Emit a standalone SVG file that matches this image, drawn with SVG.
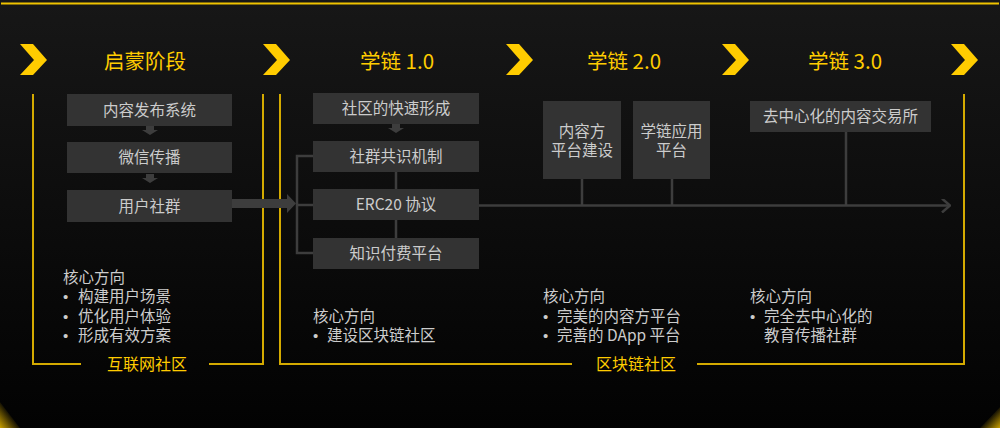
<svg xmlns="http://www.w3.org/2000/svg" width="1000" height="428" viewBox="0 0 1000 428">
<defs>
<linearGradient id="bg" x1="0" y1="0" x2="0" y2="1">
<stop offset="0" stop-color="#171717"/>
<stop offset="1" stop-color="#020202"/>
</linearGradient>
<linearGradient id="cl" x1="0" y1="1" x2="1" y2="0">
<stop offset="0" stop-color="#c9a000"/>
<stop offset="0.55" stop-color="#c9a000" stop-opacity="0"/>
</linearGradient>
<linearGradient id="cr" x1="1" y1="1" x2="0" y2="0">
<stop offset="0" stop-color="#c9a000"/>
<stop offset="0.55" stop-color="#c9a000" stop-opacity="0"/>
</linearGradient>
<polygon id="chev" points="0,0 13,0 27,16 13,31 0,31 14,16" fill="#ffcc00"/>
<polygon id="down" points="-4,0 4,0 4,4 8,4 0,9 -8,4 -4,4" fill="#3d3d3d"/>
<marker id="ah" markerWidth="10" markerHeight="14" refX="9" refY="7" orient="auto" markerUnits="userSpaceOnUse">
<path d="M1,0 L9,7 L1,14" fill="none" stroke="#3d3d3d" stroke-width="2.5"/>
</marker>
</defs>
<style>
.t{font-family:"Noto Sans CJK SC","Liberation Sans",sans-serif;}
.b{font-family:"Liberation Sans",sans-serif;font-size:15px;}
.title{fill:#ffcc00;font-size:20.5px;text-anchor:middle;}
.box{fill:#333333;}
.bt{fill:#cccccc;font-size:15.5px;text-anchor:middle;}
.frame{fill:none;stroke:#d4aa00;stroke-width:2;}
.ft{fill:#ffcc00;font-size:16px;text-anchor:middle;}
.core{fill:#cccccc;font-size:15.5px;}
.con{fill:none;stroke:#3d3d3d;stroke-width:2.5;}
</style>
<rect x="0" y="0" width="1000" height="428" fill="url(#bg)"/>
<rect x="1" y="2.5" width="998" height="2" fill="#f0c300"/>
<polygon points="0,402 0,428 20,428" fill="url(#cl)"/>
<polygon points="1000,407 1000,428 980,428" fill="url(#cr)"/>

<g id="chevrons">
<use href="#chev" x="20" y="44"/>
<use href="#chev" x="263" y="44"/>
<use href="#chev" x="506" y="44"/>
<use href="#chev" x="722" y="44"/>
<use href="#chev" x="951" y="44"/>
</g>

<g id="titles">
<text class="t title" x="145" y="69">启蒙阶段</text>
<text class="t title" x="397" y="69">学链 1.0</text>
<text class="t title" x="624" y="69">学链 2.0</text>
<text class="t title" x="845" y="69">学链 3.0</text>
</g>

<g id="frames">
<path class="frame" d="M33,94 V364 H81 M209,364 H263 V94"/>
<path class="frame" d="M280,94 V364 H572 M697,364 H964 V94"/>
<text class="t ft" x="147" y="369.5">互联网社区</text>
<text class="t ft" x="636" y="369.5">区块链社区</text>
</g>

<g id="connectors">
<use href="#down" x="150" y="126"/>
<use href="#down" x="150" y="174"/>
<use href="#down" x="396" y="124"/>
<polygon points="232,199 287,199 287,194 296,203.5 287,213 287,208 232,208" fill="#3d3d3d"/>
<path class="con" d="M313,156 H297 V253 H313 M297,205 H313"/>
<path class="con" d="M396,172 V189 M396,220 V238"/>
<path class="con" d="M479,205.5 H950" marker-end="url(#ah)"/>
<path class="con" d="M582,179 V205 M672,179 V205 M846,132 V205"/>
</g>

<g id="n1"><rect class="box" x="67" y="94" width="165" height="32"/><text class="t bt" x="149.5" y="115.5">内容发布系统</text></g>
<g id="n2"><rect class="box" x="67" y="142" width="165" height="31"/><text class="t bt" x="149.5" y="163">微信传播</text></g>
<g id="n3"><rect class="box" x="67" y="190" width="165" height="32"/><text class="t bt" x="149.5" y="211.5">用户社群</text></g>

<g id="n4"><rect class="box" x="313" y="93" width="166" height="31"/><text class="t bt" x="396" y="114">社区的快速形成</text></g>
<g id="n5"><rect class="box" x="313" y="141" width="166" height="31"/><text class="t bt" x="396" y="162">社群共识机制</text></g>
<g id="n6"><rect class="box" x="313" y="189" width="166" height="31"/><text class="t bt" x="396" y="210">ERC20 协议</text></g>
<g id="n7"><rect class="box" x="313" y="238" width="166" height="31"/><text class="t bt" x="396" y="259">知识付费平台</text></g>

<g id="n8"><rect class="box" x="543" y="101" width="78" height="78"/><text class="t bt" x="582" y="137"><tspan x="582" y="137">内容方</tspan><tspan x="582" y="156">平台建设</tspan></text></g>
<g id="n9"><rect class="box" x="633" y="101" width="77" height="78"/><text class="t bt" x="671.5" y="137"><tspan x="671.5" y="137">学链应用</tspan><tspan x="671.5" y="156">平台</tspan></text></g>
<g id="n10"><rect class="box" x="750" y="101" width="181" height="31"/><text class="t bt" x="840.5" y="122">去中心化的内容交易所</text></g>

<g id="core1">
<text class="t core" x="63" y="283"><tspan x="63" y="283">核心方向</tspan><tspan class="b" x="63" y="302">•</tspan><tspan x="78" y="302">构建用户场景</tspan><tspan class="b" x="63" y="321.5">•</tspan><tspan x="78" y="321.5">优化用户体验</tspan><tspan class="b" x="63" y="341">•</tspan><tspan x="78" y="341">形成有效方案</tspan></text>
</g>
<g id="core2">
<text class="t core" x="313" y="321.5"><tspan x="313" y="321.5">核心方向</tspan><tspan class="b" x="313" y="341">•</tspan><tspan x="327" y="341">建设区块链社区</tspan></text>
</g>
<g id="core3">
<text class="t core" x="543" y="302"><tspan x="543" y="302">核心方向</tspan><tspan class="b" x="543" y="321.5">•</tspan><tspan x="557" y="321.5">完美的内容方平台</tspan><tspan class="b" x="543" y="341">•</tspan><tspan x="557" y="341">完善的 DApp 平台</tspan></text>
</g>
<g id="core4">
<text class="t core" x="750" y="302"><tspan x="750" y="302">核心方向</tspan><tspan class="b" x="750" y="321.5">•</tspan><tspan x="764" y="321.5">完全去中心化的</tspan><tspan x="764" y="341">教育传播社群</tspan></text>
</g>
</svg>
